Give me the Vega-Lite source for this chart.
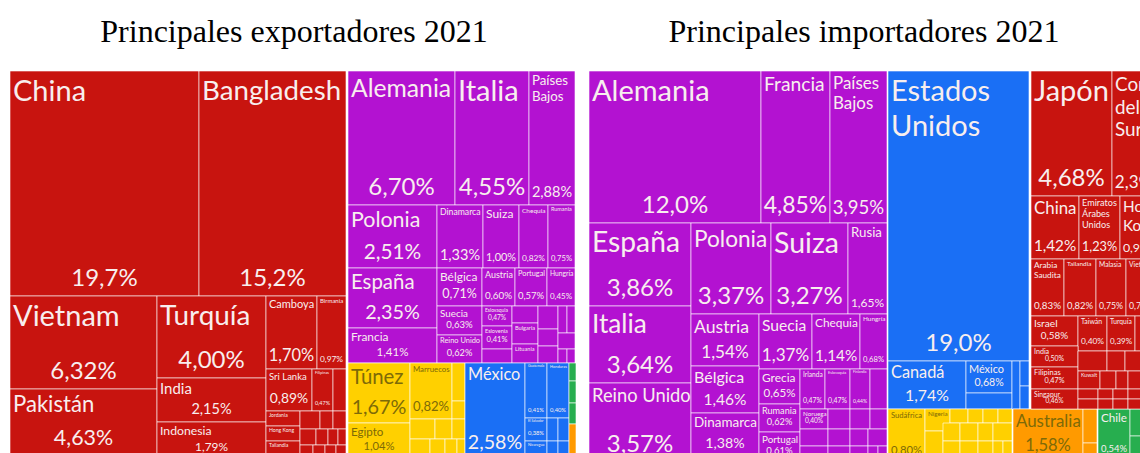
{
  "$schema": "https://vega.github.io/schema/vega-lite/v6.json",
  "padding": {"left": 10, "top": 16, "right": 0, "bottom": 0},
  "spacing": 10,
  "config": {
    "view": {"stroke": null},
    "title": {"font": "Liberation Serif", "fontSize": 32, "fontWeight": "normal", "color": "#000000", "anchor": "middle", "offset": 22}
  },
  "datasets": {
    "exp": [
      {"name": "China", "pct": "19,7%", "share": 19.7, "region": "Asia", "x0": 0, "x1": 189, "y0": 0, "y1": 225},
      {"name": "Bangladesh", "pct": "15,2%", "share": 15.2, "region": "Asia", "x0": 189, "x1": 336, "y0": 0, "y1": 225},
      {"name": "Vietnam", "pct": "6,32%", "share": 6.32, "region": "Asia", "x0": 0, "x1": 147, "y0": 225, "y1": 318},
      {"name": "Pakistán", "pct": "4,63%", "share": 4.63, "region": "Asia", "x0": 0, "x1": 147, "y0": 318, "y1": 383},
      {"name": "Turquía", "pct": "4,00%", "share": 4.0, "region": "Asia", "x0": 147, "x1": 256, "y0": 225, "y1": 307},
      {"name": "India", "pct": "2,15%", "share": 2.15, "region": "Asia", "x0": 147, "x1": 256, "y0": 307, "y1": 351},
      {"name": "Indonesia", "pct": "1,79%", "share": 1.79, "region": "Asia", "x0": 147, "x1": 256, "y0": 351, "y1": 387},
      {"name": "Camboya", "pct": "1,70%", "share": 1.7, "region": "Asia", "x0": 256, "x1": 307, "y0": 225, "y1": 298},
      {"name": "Birmania", "pct": "0,97%", "share": 0.97, "region": "Asia", "x0": 307, "x1": 336, "y0": 225, "y1": 298},
      {"name": "Sri Lanka", "pct": "0,89%", "share": 0.89, "region": "Asia", "x0": 256, "x1": 302, "y0": 298, "y1": 340},
      {"name": "Filipinas", "pct": "0,47%", "share": 0.47, "region": "Asia", "x0": 302, "x1": 323, "y0": 298, "y1": 340},
      {"region": "Asia", "x0": 323, "x1": 336, "y0": 298, "y1": 340},
      {"name": "Jordania", "region": "Asia", "x0": 256, "x1": 290, "y0": 340, "y1": 355},
      {"name": "Hong Kong", "region": "Asia", "x0": 256, "x1": 290, "y0": 355, "y1": 370},
      {"name": "Tailandia", "region": "Asia", "x0": 256, "x1": 290, "y0": 370, "y1": 385},
      {"region": "Asia", "x0": 290, "x1": 310, "y0": 340, "y1": 358},
      {"region": "Asia", "x0": 310, "x1": 323, "y0": 340, "y1": 358},
      {"region": "Asia", "x0": 323, "x1": 336, "y0": 340, "y1": 358},
      {"region": "Asia", "x0": 290, "x1": 306, "y0": 358, "y1": 374},
      {"region": "Asia", "x0": 306, "x1": 318, "y0": 358, "y1": 374},
      {"region": "Asia", "x0": 318, "x1": 328, "y0": 358, "y1": 374},
      {"region": "Asia", "x0": 328, "x1": 336, "y0": 358, "y1": 374},
      {"region": "Asia", "x0": 290, "x1": 303, "y0": 374, "y1": 387},
      {"region": "Asia", "x0": 303, "x1": 315, "y0": 374, "y1": 387},
      {"region": "Asia", "x0": 315, "x1": 326, "y0": 374, "y1": 387},
      {"region": "Asia", "x0": 326, "x1": 336, "y0": 374, "y1": 387},
      {"name": "Alemania", "pct": "6,70%", "share": 6.7, "region": "Europa", "x0": 338, "x1": 445, "y0": 0, "y1": 134},
      {"name": "Italia", "pct": "4,55%", "share": 4.55, "region": "Europa", "x0": 445, "x1": 519, "y0": 0, "y1": 134},
      {"name": "Países\nBajos", "pct": "2,88%", "share": 2.88, "region": "Europa", "x0": 519, "x1": 565, "y0": 0, "y1": 134},
      {"name": "Polonia", "pct": "2,51%", "share": 2.51, "region": "Europa", "x0": 338, "x1": 427, "y0": 134, "y1": 197},
      {"name": "España", "pct": "2,35%", "share": 2.35, "region": "Europa", "x0": 338, "x1": 427, "y0": 197, "y1": 257},
      {"name": "Francia", "pct": "1,41%", "share": 1.41, "region": "Europa", "x0": 338, "x1": 427, "y0": 257, "y1": 292},
      {"name": "Dinamarca", "pct": "1,33%", "share": 1.33, "region": "Europa", "x0": 427, "x1": 473, "y0": 134, "y1": 197},
      {"name": "Suiza", "pct": "1,00%", "share": 1.0, "region": "Europa", "x0": 473, "x1": 509, "y0": 134, "y1": 197},
      {"name": "Chequia", "pct": "0,82%", "share": 0.82, "region": "Europa", "x0": 509, "x1": 538, "y0": 134, "y1": 197},
      {"name": "Rumania", "pct": "0,75%", "share": 0.75, "region": "Europa", "x0": 538, "x1": 565, "y0": 134, "y1": 197},
      {"name": "Bélgica", "pct": "0,71%", "share": 0.71, "region": "Europa", "x0": 427, "x1": 472, "y0": 197, "y1": 235},
      {"name": "Austria", "pct": "0,60%", "share": 0.6, "region": "Europa", "x0": 472, "x1": 505, "y0": 197, "y1": 235},
      {"name": "Portugal", "pct": "0,57%", "share": 0.57, "region": "Europa", "x0": 505, "x1": 537, "y0": 197, "y1": 235},
      {"name": "Hungría", "pct": "0,45%", "share": 0.45, "region": "Europa", "x0": 537, "x1": 565, "y0": 197, "y1": 235},
      {"name": "Suecia", "pct": "0,63%", "share": 0.63, "region": "Europa", "x0": 427, "x1": 472, "y0": 235, "y1": 264},
      {"name": "Reino Unido", "pct": "0,62%", "share": 0.62, "region": "Europa", "x0": 427, "x1": 472, "y0": 264, "y1": 292},
      {"name": "Eslovaquia", "pct": "0,47%", "share": 0.47, "region": "Europa", "x0": 472, "x1": 502, "y0": 235, "y1": 255},
      {"name": "Eslovenia", "pct": "0,41%", "share": 0.41, "region": "Europa", "x0": 472, "x1": 502, "y0": 255, "y1": 278},
      {"region": "Europa", "x0": 472, "x1": 502, "y0": 278, "y1": 292},
      {"region": "Europa", "x0": 502, "x1": 528, "y0": 235, "y1": 252},
      {"name": "Bulgaria", "region": "Europa", "x0": 502, "x1": 528, "y0": 252, "y1": 273},
      {"name": "Lituania", "region": "Europa", "x0": 502, "x1": 528, "y0": 273, "y1": 292},
      {"region": "Europa", "x0": 528, "x1": 548, "y0": 235, "y1": 258},
      {"region": "Europa", "x0": 528, "x1": 548, "y0": 258, "y1": 275},
      {"region": "Europa", "x0": 528, "x1": 548, "y0": 275, "y1": 292},
      {"region": "Europa", "x0": 548, "x1": 557, "y0": 235, "y1": 262},
      {"region": "Europa", "x0": 557, "x1": 565, "y0": 235, "y1": 262},
      {"region": "Europa", "x0": 548, "x1": 565, "y0": 262, "y1": 278},
      {"region": "Europa", "x0": 548, "x1": 557, "y0": 278, "y1": 292},
      {"region": "Europa", "x0": 557, "x1": 565, "y0": 278, "y1": 292},
      {"name": "Túnez", "pct": "1,67%", "share": 1.67, "region": "África", "x0": 338, "x1": 400, "y0": 292, "y1": 352},
      {"name": "Egipto", "pct": "1,04%", "share": 1.04, "region": "África", "x0": 338, "x1": 400, "y0": 352, "y1": 386},
      {"name": "Marruecos", "pct": "0,82%", "share": 0.82, "region": "África", "x0": 400, "x1": 442, "y0": 292, "y1": 348},
      {"region": "África", "x0": 442, "x1": 455, "y0": 292, "y1": 330},
      {"region": "África", "x0": 442, "x1": 455, "y0": 330, "y1": 348},
      {"region": "África", "x0": 400, "x1": 425, "y0": 348, "y1": 368},
      {"region": "África", "x0": 425, "x1": 442, "y0": 348, "y1": 368},
      {"region": "África", "x0": 442, "x1": 455, "y0": 348, "y1": 368},
      {"region": "África", "x0": 400, "x1": 420, "y0": 368, "y1": 387},
      {"region": "África", "x0": 420, "x1": 435, "y0": 368, "y1": 387},
      {"region": "África", "x0": 435, "x1": 447, "y0": 368, "y1": 387},
      {"region": "África", "x0": 447, "x1": 455, "y0": 368, "y1": 387},
      {"name": "México", "pct": "2,58%", "share": 2.58, "region": "Norteamérica", "x0": 455, "x1": 515, "y0": 292, "y1": 387},
      {"name": "Guatemala", "pct": "0,41%", "share": 0.41, "region": "Norteamérica", "x0": 515, "x1": 537, "y0": 292, "y1": 347},
      {"name": "Honduras", "pct": "0,40%", "share": 0.4, "region": "Norteamérica", "x0": 537, "x1": 559, "y0": 292, "y1": 347},
      {"name": "El Salvador", "pct": "0,38%", "share": 0.38, "region": "Norteamérica", "x0": 515, "x1": 537, "y0": 347, "y1": 370},
      {"name": "Nicaragua", "region": "Norteamérica", "x0": 515, "x1": 537, "y0": 370, "y1": 387},
      {"region": "Norteamérica", "x0": 537, "x1": 548, "y0": 347, "y1": 370},
      {"region": "Norteamérica", "x0": 548, "x1": 559, "y0": 347, "y1": 370},
      {"region": "Norteamérica", "x0": 537, "x1": 548, "y0": 370, "y1": 387},
      {"region": "Norteamérica", "x0": 548, "x1": 559, "y0": 370, "y1": 387},
      {"region": "Sudamérica", "x0": 559, "x1": 566, "y0": 292, "y1": 310},
      {"region": "Sudamérica", "x0": 559, "x1": 566, "y0": 310, "y1": 332},
      {"region": "Sudamérica", "x0": 559, "x1": 566, "y0": 332, "y1": 353},
      {"region": "Oceanía", "x0": 559, "x1": 566, "y0": 353, "y1": 387}
    ],
    "imp": [
      {"name": "Alemania", "pct": "12,0%", "share": 12.0, "region": "Europa", "x0": 1, "x1": 173, "y0": 0, "y1": 152},
      {"name": "Francia", "pct": "4,85%", "share": 4.85, "region": "Europa", "x0": 173, "x1": 242, "y0": 0, "y1": 152},
      {"name": "Países\nBajos", "pct": "3,95%", "share": 3.95, "region": "Europa", "x0": 242, "x1": 299, "y0": 0, "y1": 152},
      {"name": "España", "pct": "3,86%", "share": 3.86, "region": "Europa", "x0": 1, "x1": 103, "y0": 152, "y1": 235},
      {"name": "Italia", "pct": "3,64%", "share": 3.64, "region": "Europa", "x0": 1, "x1": 103, "y0": 235, "y1": 312},
      {"name": "Reino Unido", "pct": "3,57%", "share": 3.57, "region": "Europa", "x0": 1, "x1": 103, "y0": 312, "y1": 391},
      {"name": "Polonia", "pct": "3,37%", "share": 3.37, "region": "Europa", "x0": 103, "x1": 183, "y0": 152, "y1": 243},
      {"name": "Suiza", "pct": "3,27%", "share": 3.27, "region": "Europa", "x0": 183, "x1": 260, "y0": 152, "y1": 243},
      {"name": "Rusia", "pct": "1,65%", "share": 1.65, "region": "Europa", "x0": 260, "x1": 299, "y0": 152, "y1": 243},
      {"name": "Austria", "pct": "1,54%", "share": 1.54, "region": "Europa", "x0": 103, "x1": 171, "y0": 243, "y1": 295},
      {"name": "Suecia", "pct": "1,37%", "share": 1.37, "region": "Europa", "x0": 171, "x1": 224, "y0": 243, "y1": 298},
      {"name": "Chequia", "pct": "1,14%", "share": 1.14, "region": "Europa", "x0": 224, "x1": 272, "y0": 243, "y1": 298},
      {"name": "Hungría", "pct": "0,68%", "share": 0.68, "region": "Europa", "x0": 272, "x1": 299, "y0": 243, "y1": 298},
      {"name": "Bélgica", "pct": "1,46%", "share": 1.46, "region": "Europa", "x0": 103, "x1": 171, "y0": 295, "y1": 342},
      {"name": "Dinamarca", "pct": "1,38%", "share": 1.38, "region": "Europa", "x0": 103, "x1": 171, "y0": 342, "y1": 385},
      {"name": "Grecia", "pct": "0,65%", "share": 0.65, "region": "Europa", "x0": 171, "x1": 212, "y0": 298, "y1": 333},
      {"name": "Rumania", "pct": "0,62%", "share": 0.62, "region": "Europa", "x0": 171, "x1": 212, "y0": 333, "y1": 361},
      {"name": "Portugal", "pct": "0,61%", "share": 0.61, "region": "Europa", "x0": 171, "x1": 212, "y0": 361, "y1": 390},
      {"name": "Irlanda", "pct": "0,47%", "share": 0.47, "region": "Europa", "x0": 212, "x1": 237, "y0": 298, "y1": 338},
      {"name": "Eslovaquia", "pct": "0,47%", "share": 0.47, "region": "Europa", "x0": 237, "x1": 262, "y0": 298, "y1": 338},
      {"name": "Finlandia", "pct": "0,44%", "share": 0.44, "region": "Europa", "x0": 262, "x1": 282, "y0": 298, "y1": 338},
      {"region": "Europa", "x0": 282, "x1": 299, "y0": 298, "y1": 338},
      {"name": "Noruega", "pct": "0,40%", "share": 0.4, "region": "Europa", "x0": 212, "x1": 240, "y0": 338, "y1": 358},
      {"region": "Europa", "x0": 240, "x1": 262, "y0": 338, "y1": 358},
      {"region": "Europa", "x0": 262, "x1": 282, "y0": 338, "y1": 358},
      {"region": "Europa", "x0": 282, "x1": 299, "y0": 338, "y1": 358},
      {"region": "Europa", "x0": 212, "x1": 240, "y0": 358, "y1": 375},
      {"region": "Europa", "x0": 240, "x1": 262, "y0": 358, "y1": 375},
      {"region": "Europa", "x0": 262, "x1": 280, "y0": 358, "y1": 375},
      {"region": "Europa", "x0": 280, "x1": 299, "y0": 358, "y1": 375},
      {"region": "Europa", "x0": 212, "x1": 240, "y0": 375, "y1": 390},
      {"region": "Europa", "x0": 240, "x1": 262, "y0": 375, "y1": 390},
      {"region": "Europa", "x0": 262, "x1": 280, "y0": 375, "y1": 390},
      {"region": "Europa", "x0": 280, "x1": 290, "y0": 375, "y1": 390},
      {"region": "Europa", "x0": 290, "x1": 299, "y0": 375, "y1": 390},
      {"name": "Estados\nUnidos", "pct": "19,0%", "share": 19.0, "region": "Norteamérica", "x0": 300, "x1": 441, "y0": 0, "y1": 290},
      {"name": "Canadá", "pct": "1,74%", "share": 1.74, "region": "Norteamérica", "x0": 300, "x1": 378, "y0": 290, "y1": 338},
      {"name": "México", "pct": "0,68%", "share": 0.68, "region": "Norteamérica", "x0": 378, "x1": 424, "y0": 290, "y1": 322},
      {"region": "Norteamérica", "x0": 378, "x1": 424, "y0": 322, "y1": 338},
      {"region": "Norteamérica", "x0": 424, "x1": 432, "y0": 290, "y1": 338},
      {"region": "Norteamérica", "x0": 432, "x1": 441, "y0": 290, "y1": 315},
      {"region": "Norteamérica", "x0": 432, "x1": 441, "y0": 315, "y1": 338},
      {"name": "Sudáfrica", "pct": "0,80%", "share": 0.8, "region": "África", "x0": 300, "x1": 337, "y0": 338, "y1": 390},
      {"name": "Nigeria", "region": "África", "x0": 337, "x1": 362, "y0": 338, "y1": 360},
      {"region": "África", "x0": 362, "x1": 380, "y0": 338, "y1": 352},
      {"region": "África", "x0": 380, "x1": 395, "y0": 338, "y1": 352},
      {"region": "África", "x0": 395, "x1": 410, "y0": 338, "y1": 352},
      {"region": "África", "x0": 410, "x1": 424, "y0": 338, "y1": 352},
      {"region": "África", "x0": 337, "x1": 355, "y0": 360, "y1": 388},
      {"region": "África", "x0": 355, "x1": 372, "y0": 352, "y1": 370},
      {"region": "África", "x0": 372, "x1": 390, "y0": 352, "y1": 370},
      {"region": "África", "x0": 390, "x1": 405, "y0": 352, "y1": 370},
      {"region": "África", "x0": 405, "x1": 424, "y0": 352, "y1": 370},
      {"region": "África", "x0": 355, "x1": 372, "y0": 370, "y1": 388},
      {"region": "África", "x0": 372, "x1": 390, "y0": 370, "y1": 388},
      {"region": "África", "x0": 390, "x1": 405, "y0": 370, "y1": 388},
      {"region": "África", "x0": 405, "x1": 415, "y0": 370, "y1": 388},
      {"region": "África", "x0": 415, "x1": 424, "y0": 370, "y1": 388},
      {"name": "Australia", "pct": "1,58%", "share": 1.58, "region": "Oceanía", "x0": 425, "x1": 495, "y0": 338, "y1": 388},
      {"region": "Oceanía", "x0": 495, "x1": 509, "y0": 338, "y1": 372},
      {"region": "Oceanía", "x0": 495, "x1": 509, "y0": 372, "y1": 388},
      {"name": "Chile", "pct": "0,54%", "share": 0.54, "region": "Sudamérica", "x0": 510, "x1": 542, "y0": 338, "y1": 388},
      {"region": "Sudamérica", "x0": 542, "x1": 560, "y0": 338, "y1": 365},
      {"region": "Sudamérica", "x0": 542, "x1": 560, "y0": 365, "y1": 388},
      {"name": "Japón", "pct": "4,68%", "share": 4.68, "region": "Asia", "x0": 443, "x1": 524, "y0": 0, "y1": 125},
      {"name": "Corea\ndel\nSur", "pct": "2,39%", "share": 2.39, "region": "Asia", "x0": 524, "x1": 577, "y0": 0, "y1": 125},
      {"name": "China", "pct": "1,42%", "share": 1.42, "region": "Asia", "x0": 443, "x1": 491, "y0": 125, "y1": 188},
      {"name": "Emiratos\nÁrabes\nUnidos", "pct": "1,23%", "share": 1.23, "region": "Asia", "x0": 491, "x1": 532, "y0": 125, "y1": 188},
      {"name": "Hong\nKong", "pct": "0,93%", "share": 0.93, "region": "Asia", "x0": 532, "x1": 572, "y0": 125, "y1": 188},
      {"name": "Arabia\nSaudita", "pct": "0,83%", "share": 0.83, "region": "Asia", "x0": 443, "x1": 476, "y0": 188, "y1": 245},
      {"name": "Tailandia", "pct": "0,82%", "share": 0.82, "region": "Asia", "x0": 476, "x1": 508, "y0": 188, "y1": 245},
      {"name": "Malasia", "pct": "0,75%", "share": 0.75, "region": "Asia", "x0": 508, "x1": 538, "y0": 188, "y1": 245},
      {"name": "Vietnam", "pct": "0,75%", "share": 0.75, "region": "Asia", "x0": 538, "x1": 568, "y0": 188, "y1": 245},
      {"name": "Israel", "pct": "0,58%", "share": 0.58, "region": "Asia", "x0": 443, "x1": 490, "y0": 245, "y1": 275},
      {"name": "Taiwán", "pct": "0,40%", "share": 0.4, "region": "Asia", "x0": 490, "x1": 519, "y0": 245, "y1": 280},
      {"name": "Turquía", "pct": "0,39%", "share": 0.39, "region": "Asia", "x0": 519, "x1": 547, "y0": 245, "y1": 280},
      {"region": "Asia", "x0": 547, "x1": 560, "y0": 245, "y1": 280},
      {"name": "India", "pct": "0,50%", "share": 0.5, "region": "Asia", "x0": 443, "x1": 490, "y0": 275, "y1": 296},
      {"name": "Filipinas", "pct": "0,47%", "share": 0.47, "region": "Asia", "x0": 443, "x1": 490, "y0": 296, "y1": 318},
      {"name": "Singapur", "pct": "0,46%", "share": 0.46, "region": "Asia", "x0": 443, "x1": 490, "y0": 318, "y1": 338},
      {"region": "Asia", "x0": 490, "x1": 519, "y0": 280, "y1": 300},
      {"region": "Asia", "x0": 519, "x1": 537, "y0": 280, "y1": 300},
      {"region": "Asia", "x0": 537, "x1": 560, "y0": 280, "y1": 300},
      {"name": "Kuwait", "region": "Asia", "x0": 490, "x1": 512, "y0": 300, "y1": 318},
      {"region": "Asia", "x0": 512, "x1": 528, "y0": 300, "y1": 318},
      {"region": "Asia", "x0": 528, "x1": 540, "y0": 300, "y1": 318},
      {"region": "Asia", "x0": 540, "x1": 560, "y0": 300, "y1": 318},
      {"region": "Asia", "x0": 490, "x1": 510, "y0": 318, "y1": 328},
      {"region": "Asia", "x0": 510, "x1": 525, "y0": 318, "y1": 328},
      {"region": "Asia", "x0": 525, "x1": 540, "y0": 318, "y1": 328},
      {"region": "Asia", "x0": 540, "x1": 560, "y0": 318, "y1": 328},
      {"region": "Asia", "x0": 490, "x1": 510, "y0": 328, "y1": 338},
      {"region": "Asia", "x0": 510, "x1": 525, "y0": 328, "y1": 338},
      {"region": "Asia", "x0": 525, "x1": 540, "y0": 328, "y1": 338},
      {"region": "Asia", "x0": 540, "x1": 560, "y0": 328, "y1": 338}
    ]
  },
  "hconcat": [
    {
      "title": "Principales exportadores 2021",
      "width": 568,
      "height": 383,
      "data": {"name": "exp"},
      "transform": [
        {"calculate": "datum.x1 - datum.x0", "as": "w"},
        {"calculate": "datum.y1 - datum.y0", "as": "h"},
        {"calculate": "datum.name ? split(datum.name, '\\n') : ['']", "as": "lines"},
        {"calculate": "datum.lines[0] || ''", "as": "l0"},
        {"calculate": "datum.lines[1] || ''", "as": "l1"},
        {"calculate": "datum.lines[2] || ''", "as": "l2"},
        {"calculate": "0.26 * (length(datum.l0) + length(replace(datum.l0, regexp('[iltfjrIJí ]', 'g'), ''))) + 0.15 * (length(datum.l0) - length(replace(datum.l0, regexp('[A-HK-ZÁÉÓÚ]', 'g'), ''))) + 0.3 * (length(datum.l0) - length(replace(datum.l0, regexp('[mwMW]', 'g'), '')))", "as": "c0"},
        {"calculate": "0.26 * (length(datum.l1) + length(replace(datum.l1, regexp('[iltfjrIJí ]', 'g'), ''))) + 0.15 * (length(datum.l1) - length(replace(datum.l1, regexp('[A-HK-ZÁÉÓÚ]', 'g'), ''))) + 0.3 * (length(datum.l1) - length(replace(datum.l1, regexp('[mwMW]', 'g'), '')))", "as": "c1"},
        {"calculate": "0.26 * (length(datum.l2) + length(replace(datum.l2, regexp('[iltfjrIJí ]', 'g'), ''))) + 0.15 * (length(datum.l2) - length(replace(datum.l2, regexp('[A-HK-ZÁÉÓÚ]', 'g'), ''))) + 0.3 * (length(datum.l2) - length(replace(datum.l2, regexp('[mwMW]', 'g'), '')))", "as": "c2"},
        {"calculate": "max(datum.c0, datum.c1, datum.c2, 0.5)", "as": "ml"},
        {"calculate": "clamp(min(29, 0.34 * datum.h, (datum.w - 6) / datum.ml), 3, 29)", "as": "ns"},
        {"calculate": "datum.pct ? clamp(min(24, 0.33 * datum.h, (datum.w - 6) / (0.55 * length(datum.pct))), 3, 24) : 3", "as": "ps"},
        {"calculate": "datum.x0 + 3", "as": "nx"},
        {"calculate": "datum.y0 + datum.ns + 1", "as": "ny"},
        {"calculate": "(datum.x0 + datum.x1) / 2", "as": "xm"},
        {"calculate": "datum.y1 - 5 - 0.2 * datum.ps", "as": "py"}
      ],
      "layer": [
        {
          "mark": {"type": "rect", "stroke": "#ffffff", "strokeWidth": 1, "strokeOpacity": 0.6, "clip": true},
          "encoding": {
            "x": {"field": "x0", "type": "quantitative", "scale": {"domain": [0, 568], "nice": false, "zero": false}, "axis": null},
            "x2": {"field": "x1"},
            "y": {"field": "y0", "type": "quantitative", "scale": {"domain": [0, 383], "nice": false, "zero": false, "reverse": true}, "axis": null},
            "y2": {"field": "y1"},
            "color": {"field": "region", "type": "nominal", "scale": {"domain": ["Asia", "Europa", "África", "Norteamérica", "Oceanía", "Sudamérica"], "range": ["#c8140f", "#b312d1", "#ffd000", "#1a6ff5", "#ff9a00", "#27ae4f"]}, "legend": null}
          }
        },
        {
          "transform": [{"filter": "datum.name"}],
          "mark": {"type": "text", "align": "left", "baseline": "alphabetic", "font": "Lato", "lineBreak": "\n", "lineHeight": {"expr": "datum.ns * 1.2"}, "clip": true},
          "encoding": {
            "x": {"field": "nx", "type": "quantitative", "scale": {"domain": [0, 568], "nice": false, "zero": false}, "axis": null},
            "y": {"field": "ny", "type": "quantitative", "scale": {"domain": [0, 383], "nice": false, "zero": false, "reverse": true}, "axis": null},
            "text": {"field": "name"},
            "size": {"field": "ns", "type": "quantitative", "scale": null, "legend": null},
            "color": {"condition": {"test": "datum.region === 'África' || datum.region === 'Oceanía'", "value": "#7d6a08"}, "value": "#f8eeee"}
          }
        },
        {
          "transform": [{"filter": "datum.pct"}],
          "mark": {"type": "text", "align": "center", "baseline": "alphabetic", "font": "Lato", "clip": true},
          "encoding": {
            "x": {"field": "xm", "type": "quantitative", "scale": {"domain": [0, 568], "nice": false, "zero": false}, "axis": null},
            "y": {"field": "py", "type": "quantitative", "scale": {"domain": [0, 383], "nice": false, "zero": false, "reverse": true}, "axis": null},
            "text": {"field": "pct"},
            "size": {"field": "ps", "type": "quantitative", "scale": null, "legend": null},
            "color": {"condition": {"test": "datum.region === 'África' || datum.region === 'Oceanía'", "value": "#7d6a08"}, "value": "#f8eeee"}
          }
        }
      ]
    },
    {
      "title": "Principales importadores 2021",
      "width": 552,
      "height": 383,
      "data": {"name": "imp"},
      "transform": [
        {"calculate": "datum.x1 - datum.x0", "as": "w"},
        {"calculate": "datum.y1 - datum.y0", "as": "h"},
        {"calculate": "datum.name ? split(datum.name, '\\n') : ['']", "as": "lines"},
        {"calculate": "datum.lines[0] || ''", "as": "l0"},
        {"calculate": "datum.lines[1] || ''", "as": "l1"},
        {"calculate": "datum.lines[2] || ''", "as": "l2"},
        {"calculate": "0.26 * (length(datum.l0) + length(replace(datum.l0, regexp('[iltfjrIJí ]', 'g'), ''))) + 0.15 * (length(datum.l0) - length(replace(datum.l0, regexp('[A-HK-ZÁÉÓÚ]', 'g'), ''))) + 0.3 * (length(datum.l0) - length(replace(datum.l0, regexp('[mwMW]', 'g'), '')))", "as": "c0"},
        {"calculate": "0.26 * (length(datum.l1) + length(replace(datum.l1, regexp('[iltfjrIJí ]', 'g'), ''))) + 0.15 * (length(datum.l1) - length(replace(datum.l1, regexp('[A-HK-ZÁÉÓÚ]', 'g'), ''))) + 0.3 * (length(datum.l1) - length(replace(datum.l1, regexp('[mwMW]', 'g'), '')))", "as": "c1"},
        {"calculate": "0.26 * (length(datum.l2) + length(replace(datum.l2, regexp('[iltfjrIJí ]', 'g'), ''))) + 0.15 * (length(datum.l2) - length(replace(datum.l2, regexp('[A-HK-ZÁÉÓÚ]', 'g'), ''))) + 0.3 * (length(datum.l2) - length(replace(datum.l2, regexp('[mwMW]', 'g'), '')))", "as": "c2"},
        {"calculate": "max(datum.c0, datum.c1, datum.c2, 0.5)", "as": "ml"},
        {"calculate": "clamp(min(29, 0.34 * datum.h, (datum.w - 6) / datum.ml), 3, 29)", "as": "ns"},
        {"calculate": "datum.pct ? clamp(min(24, 0.33 * datum.h, (datum.w - 6) / (0.55 * length(datum.pct))), 3, 24) : 3", "as": "ps"},
        {"calculate": "datum.x0 + 3", "as": "nx"},
        {"calculate": "datum.y0 + datum.ns + 1", "as": "ny"},
        {"calculate": "(datum.x0 + datum.x1) / 2", "as": "xm"},
        {"calculate": "datum.y1 - 5 - 0.2 * datum.ps", "as": "py"}
      ],
      "layer": [
        {
          "mark": {"type": "rect", "stroke": "#ffffff", "strokeWidth": 1, "strokeOpacity": 0.6, "clip": true},
          "encoding": {
            "x": {"field": "x0", "type": "quantitative", "scale": {"domain": [0, 552], "nice": false, "zero": false}, "axis": null},
            "x2": {"field": "x1"},
            "y": {"field": "y0", "type": "quantitative", "scale": {"domain": [0, 383], "nice": false, "zero": false, "reverse": true}, "axis": null},
            "y2": {"field": "y1"},
            "color": {"field": "region", "type": "nominal", "scale": {"domain": ["Asia", "Europa", "África", "Norteamérica", "Oceanía", "Sudamérica"], "range": ["#c8140f", "#b312d1", "#ffd000", "#1a6ff5", "#ff9a00", "#27ae4f"]}, "legend": null}
          }
        },
        {
          "transform": [{"filter": "datum.name"}],
          "mark": {"type": "text", "align": "left", "baseline": "alphabetic", "font": "Lato", "lineBreak": "\n", "lineHeight": {"expr": "datum.ns * 1.2"}, "clip": true},
          "encoding": {
            "x": {"field": "nx", "type": "quantitative", "scale": {"domain": [0, 552], "nice": false, "zero": false}, "axis": null},
            "y": {"field": "ny", "type": "quantitative", "scale": {"domain": [0, 383], "nice": false, "zero": false, "reverse": true}, "axis": null},
            "text": {"field": "name"},
            "size": {"field": "ns", "type": "quantitative", "scale": null, "legend": null},
            "color": {"condition": {"test": "datum.region === 'África' || datum.region === 'Oceanía'", "value": "#7d6a08"}, "value": "#f8eeee"}
          }
        },
        {
          "transform": [{"filter": "datum.pct"}],
          "mark": {"type": "text", "align": "center", "baseline": "alphabetic", "font": "Lato", "clip": true},
          "encoding": {
            "x": {"field": "xm", "type": "quantitative", "scale": {"domain": [0, 552], "nice": false, "zero": false}, "axis": null},
            "y": {"field": "py", "type": "quantitative", "scale": {"domain": [0, 383], "nice": false, "zero": false, "reverse": true}, "axis": null},
            "text": {"field": "pct"},
            "size": {"field": "ps", "type": "quantitative", "scale": null, "legend": null},
            "color": {"condition": {"test": "datum.region === 'África' || datum.region === 'Oceanía'", "value": "#7d6a08"}, "value": "#f8eeee"}
          }
        }
      ]
    }
  ]
}
